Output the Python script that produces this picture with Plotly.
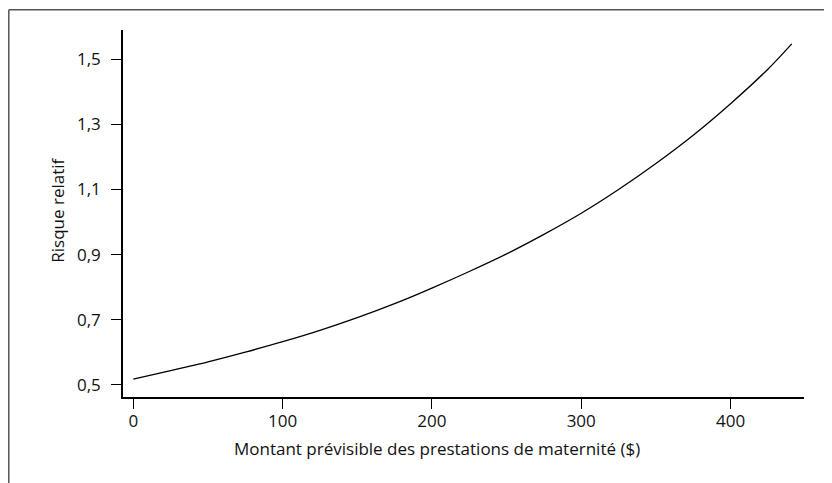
import plotly.graph_objects as go

# Data
montant = [0, 25, 50, 75, 100, 125, 150, 175, 200, 225, 250, 275, 300, 325, 350, 375, 400, 425, 441]
risque = [0.517, 0.543, 0.570, 0.600, 0.632, 0.667, 0.706, 0.749, 0.797, 0.848, 0.902,
          0.962, 1.027, 1.100, 1.180, 1.267, 1.364, 1.470, 1.548]

x_ticks = [0, 100, 200, 300, 400]
y_ticks = [0.5, 0.7, 0.9, 1.1, 1.3, 1.5]

x_title = "Montant prévisible des prestations de maternité ($)"
y_title = "Risque relatif"

FONT = "Open Sans"
FS = 17

fig = go.Figure()
fig.add_trace(go.Scatter(
    x=montant, y=risque, mode="lines",
    line=dict(color="black", width=1.3, shape="spline", smoothing=0.8),
    showlegend=False, hoverinfo="skip",
))

fig.update_layout(
    width=824, height=475,
    margin=dict(l=115, r=28, t=22, b=86),
    paper_bgcolor="white", plot_bgcolor="white",
    separators=", ",
    font=dict(family=FONT, size=FS, color="#111"),
    xaxis=dict(
        range=[-6.9, 449.2], tickvals=x_ticks,
        ticks="outside", ticklen=10, tickwidth=1.3, tickcolor="black",
        showline=True, linecolor="black", linewidth=1.5,
        showgrid=False, zeroline=False,
        tickfont=dict(size=FS),
        ticklabelstandoff=-2,
    ),
    yaxis=dict(
        range=[0.462, 1.5906], tickvals=y_ticks, tickformat=".1f",
        ticks="outside", ticklen=10, tickwidth=1.3, tickcolor="black",
        showline=True, linecolor="black", linewidth=1.5,
        showgrid=False, zeroline=False,
        tickfont=dict(size=FS),
        ticklabelstandoff=7,
    ),
    annotations=[
        dict(text=x_title, xref="paper", yref="paper", x=0.4604, y=-0.139,
             xanchor="center", yanchor="middle", showarrow=False,
             font=dict(size=FS, color="#111")),
        dict(text=y_title, xref="paper", yref="paper", x=-0.0974, y=0.5095,
             xanchor="center", yanchor="middle", showarrow=False, textangle=-90,
             font=dict(size=FS, color="#111")),
    ],
    shapes=[
        dict(type="line", xref="paper", yref="paper",
             x0=-0.1677, x1=1.06, y0=1.055, y1=1.055,
             line=dict(color="#555", width=1.5)),
        dict(type="line", xref="paper", yref="paper",
             x0=-0.1677, x1=-0.1677, y0=1.055, y1=-0.25,
             line=dict(color="#555", width=1.5)),
    ],
)

fig.write_html("out.html")
